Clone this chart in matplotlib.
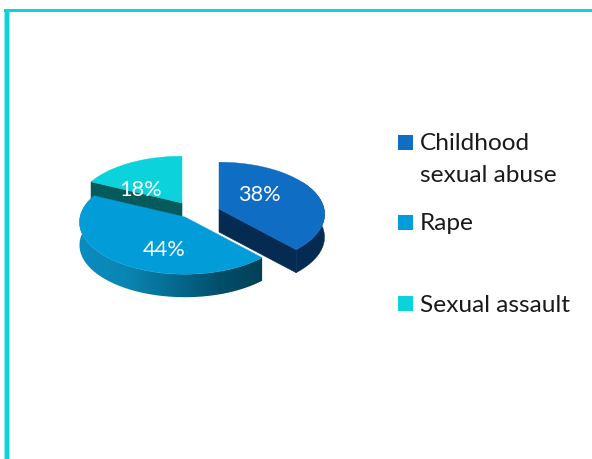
import numpy as np
import matplotlib
matplotlib.use("Agg")
from matplotlib import pyplot as plt
from matplotlib.colors import LinearSegmentedColormap
from matplotlib.patches import Polygon, Rectangle

categories = ["Childhood\nsexual abuse", "Rape", "Sexual assault"]
values = [38, 44, 18]
top_colors = ["#0F6DC3", "#029DD8", "#0BD2DB"]
legend_y = [142.5, 222.5, 303.5]
legend_text_y = [[141, 174], [222], [303]]
apexes = [(219, 209), (185, 217), (182, 203)]
label_pos = [(259, 195), (164, 249.5), (140.5, 190.5)]

RX, RY, PERSP, DEPTH = 105, 52, 0.1, 23
FRAME = "#0BD3DD"
plt.rcParams['font.family'] = ['Lato', 'DejaVu Sans']


def project(apex, angle):
    # clockwise from the top of the disc, nearer points drawn slightly larger
    u, v = np.sin(angle), -np.cos(angle)
    s = 1 + PERSP * v
    return apex[0] + RX * u * s, apex[1] + RY * v * s


def rim_points(apex, a0, a1):
    ang = np.linspace(a0, a1, 200)
    x, y = project(apex, ang)
    upper = list(zip(x, y))
    lower = list(zip(x, y + DEPTH))
    return upper + lower[::-1]


def cut_face(apex, angle, color):
    x, y = project(apex, angle)
    ax_, ay = apex
    return Polygon([(ax_, ay), (x, y), (x, y + DEPTH), (ax_, ay + DEPTH)],
                   facecolor=color, edgecolor=color, linewidth=0.4)


def top_face(apex, a0, a1, color):
    ang = np.linspace(a0, a1, 200)
    x, y = project(apex, ang)
    pts = [apex] + list(zip(x, y))
    return Polygon(pts, facecolor=color, edgecolor=color, linewidth=0.3)


fig = plt.figure(figsize=(5.92, 4.59), dpi=100)
ax = fig.add_axes([0, 0, 1, 1])

# frame, open on the right and at the bottom
ax.add_patch(Rectangle((4, 9), 6, 450, facecolor="#8FE8EC", edgecolor="none"))
ax.add_patch(Rectangle((4.8, 9), 4.6, 450, facecolor=FRAME, edgecolor="none"))
ax.add_patch(Rectangle((4, 9), 588, 3.4, facecolor=FRAME, edgecolor="none"))

edges = 2 * np.pi * np.cumsum([0] + values) / sum(values)
a_blue = (edges[0], edges[1])
a_rape = (edges[1], edges[2])
a_teal = (edges[2], edges[3])

# back slice first, then the big one, then the pulled out one
ax.add_patch(cut_face(apexes[2], a_teal[0], "#055A5C"))
ax.add_patch(top_face(apexes[2], a_teal[0], a_teal[1], top_colors[2]))

# rim of the big slice shades from left to right
rim_cmap = LinearSegmentedColormap.from_list(
    "rim", ["#0A8CBF", "#0A86B4", "#066C92", "#034F6B", "#023E55"])
rim_patch = Polygon(rim_points(apexes[1], a_rape[0], a_rape[1]),
                    facecolor="none", edgecolor="none")
ax.add_patch(rim_patch)
im = ax.imshow(np.linspace(0, 1, 256).reshape(1, -1), cmap=rim_cmap, aspect="auto",
               extent=(78, 265, 310, 190), zorder=1)
im.set_clip_path(rim_patch)
ax.add_patch(top_face(apexes[1], a_rape[0], a_rape[1], top_colors[1])).set_zorder(2)

blue_parts = [cut_face(apexes[0], a_blue[1], "#062B52"),
              Polygon(rim_points(apexes[0], a_blue[0] + 1.0, a_blue[1]),
                      facecolor="#062B52", edgecolor="#062B52", linewidth=0.3),
              top_face(apexes[0], a_blue[0], a_blue[1], top_colors[0])]
for p in blue_parts:
    p.set_zorder(3)
    ax.add_patch(p)

for v, (x, y) in zip(values, label_pos):
    ax.text(x, y, f"{v}%", color="white", fontsize=15.7, ha="center", va="center",
            zorder=5)

for name, c, ly, tys in zip(categories, top_colors, legend_y, legend_text_y):
    ax.add_patch(Rectangle((398, ly - 7.5), 15, 15, facecolor=c, edgecolor="none"))
    for line, ty in zip(name.split("\n"), tys):
        ax.text(420, ty, line, color="#1A1A1A", fontsize=17.6, ha="left",
                va="center_baseline")

ax.set_xlim(0, 592)
ax.set_ylim(459, 0)
ax.axis("off")

fig.savefig("out.png", dpi=100)
